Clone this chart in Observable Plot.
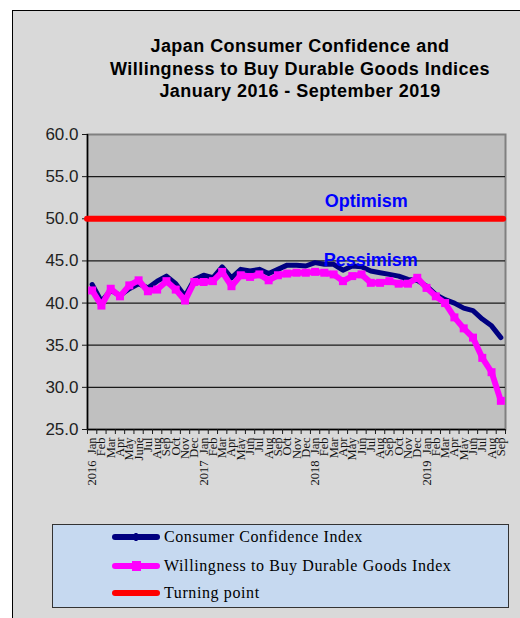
<!DOCTYPE html>
<html><head><meta charset="utf-8">
<script src="https://cdn.jsdelivr.net/npm/d3@7"></script>
<script src="https://cdn.jsdelivr.net/npm/@observablehq/plot@0.6"></script>
<style>
body{margin:0;background:#fff;width:520px;height:618px;overflow:hidden;position:relative;font-family:"Liberation Sans",Arial,sans-serif;}
#frame{position:absolute;left:12px;top:10px;width:520px;height:620px;background:#d9d9d9;border:1px solid #000;box-sizing:border-box;}
#title{position:absolute;left:60px;top:35px;width:480px;text-align:center;font-weight:bold;font-size:18px;letter-spacing:0.45px;line-height:22.5px;color:#000;}
#chart{position:absolute;left:0;top:120px;}
#legend{position:absolute;left:52px;top:524px;width:457px;height:84px;background:#c6d9f0;border:1px solid #333;box-sizing:border-box;}
.row{position:absolute;left:59px;height:20px;display:flex;align-items:center;font-family:"Liberation Serif","Times New Roman",serif;font-size:16px;letter-spacing:0.6px;color:#000;white-space:nowrap;}
.row svg{margin-right:4px;}
</style>
</head>
<body>
<div id="frame"></div>
<div id="title"></div>
<div id="chart"></div>
<div id="legend"></div>
<script>
const titleLines = ["Japan Consumer Confidence and", "Willingness to Buy Durable Goods Indices", "January 2016 - September 2019"];
const monthLabels = [
  "2016\u2002Jan","Feb","Mar","Apr","May","June","Jul","Aug","Sep","Oct","Nov","Dec",
  "2017\u2002Jan","Feb","Mar","Apr","May","Jun","Jul","Aug","Sep","Oct","Nov","Dec",
  "2018\u2002Jan","Feb","Mar","Apr","May","Jun","Jul","Aug","Sep","Oct","Nov","Dec",
  "2019\u2002Jan","Feb","Mar","Apr","May","Jun","Jul","Aug","Sep"
];
const consumerConfidence = [
  42.2, 40.2, 41.5, 40.9, 41.7, 42.3, 41.8, 42.6, 43.2, 42.3, 40.8, 42.8,
  43.3, 43.0, 44.3, 43.0, 44.0, 43.8, 44.0, 43.5, 44.0, 44.5, 44.5, 44.4,
  44.8, 44.6, 44.6, 43.9, 44.4, 44.3, 43.8, 43.6, 43.4, 43.2, 42.8, 42.7,
  42.0, 41.0, 40.4, 40.0, 39.4, 39.1, 38.1, 37.3, 35.9
];
const willingnessDurable = [
  41.5, 39.7, 41.7, 40.8, 42.1, 42.7, 41.4, 41.6, 42.6, 41.6, 40.3, 42.5,
  42.5, 42.6, 43.7, 42.0, 43.3, 43.1, 43.4, 42.7, 43.3, 43.5, 43.6, 43.6,
  43.7, 43.6, 43.4, 42.6, 43.2, 43.4, 42.4, 42.4, 42.6, 42.3, 42.3, 43.0,
  41.8, 40.8, 40.0, 38.3, 37.0, 35.9, 33.5, 31.8, 28.4
];
const turningPoint = 50;
const yTicks = [25, 30, 35, 40, 45, 50, 55, 60];
const zoneLabels = ["Optimism", "Pessimism"];
const seriesNames = ["Consumer Confidence Index", "Willingness to Buy Durable Goods Index", "Turning point"];
const seriesColors = ["#000080", "#ff00ff", "#ff0000"];

document.getElementById("title").innerHTML = titleLines.join("<br>");

const n = monthLabels.length;
const boundaries = d3.range(n + 1).map(i => i - 0.5);
const idx = (d, i) => i;

const chart = Plot.plot({
  width: 520, height: 400,
  marginTop: 14, marginBottom: 91, marginLeft: 87, marginRight: 15,
  style: {background: "transparent", fontFamily: "Liberation Sans, Arial, sans-serif", fontSize: "16px", color: "#1a1a1a", overflow: "visible"},
  x: {domain: [-0.5, n - 0.5], axis: null},
  y: {domain: [25, 60], axis: null},
  marks: [
    Plot.frame({fill: "#c0c0c0", stroke: "#808080", strokeWidth: 2}),
    Plot.ruleY(yTicks.filter(v => v > 25 && v < 60), {stroke: "#1a1a1a", strokeWidth: 1.2}),
    Plot.ruleX([-0.5], {stroke: "#000", strokeWidth: 1.5}),
    Plot.ruleY([25], {stroke: "#000", strokeWidth: 1.5}),
    Plot.axisY({ticks: yTicks, tickFormat: d => d.toFixed(1), tickSize: 5, tickPadding: 4, fontSize: 17, fill: "#222"}),
    Plot.axisX({ticks: boundaries, tickFormat: () => "", tickSize: 5}),
    Plot.text(monthLabels, {x: idx, frameAnchor: "bottom", dy: 8, rotate: -90, textAnchor: "end", lineAnchor: "middle",
      fontFamily: "Liberation Serif, Times New Roman, serif", fontSize: 12.5, fill: "#111"}),
    Plot.ruleY([turningPoint], {x1: -0.5, x2: n - 0.7, stroke: seriesColors[2], strokeWidth: 6, strokeLinecap: "round"}),
    Plot.line(consumerConfidence, {x: idx, y: d => d, stroke: seriesColors[0], strokeWidth: 5, strokeLinejoin: "round", strokeLinecap: "round"}),
    Plot.line(willingnessDurable, {x: idx, y: d => d, stroke: seriesColors[1], strokeWidth: 6, strokeLinejoin: "round"}),
    Plot.dot(willingnessDurable, {x: idx, y: d => d, symbol: "square", r: 4.5, fill: seriesColors[1]}),
    Plot.text([zoneLabels[0]], {x: 29.5, y: turningPoint, dy: -18, fontWeight: "bold", fontSize: 18, fill: "#0000ff"}),
    Plot.text([zoneLabels[1]], {x: 30, y: turningPoint, dy: 41, fontWeight: "bold", fontSize: 18, fill: "#0000ff"})
  ]
});
document.getElementById("chart").appendChild(chart);

const legend = document.getElementById("legend");
const rowTops = [2, 31, 58];
seriesNames.forEach((name, i) => {
  const row = document.createElement("div");
  row.className = "row";
  row.style.top = rowTops[i] + "px";
  let marker = "";
  if (i === 0) marker = `<rect x="22.5" y="3" width="3" height="8" fill="${seriesColors[0]}"/>`;
  if (i === 1) marker = `<rect x="20" y="2" width="9" height="10" fill="${seriesColors[1]}"/>`;
  row.innerHTML = `<svg width="48" height="14"><line x1="3" y1="7" x2="45" y2="7" stroke="${seriesColors[i]}" stroke-width="6" stroke-linecap="round"/>${marker}</svg><span>${name}</span>`;
  legend.appendChild(row);
});
</script>
</body></html>
